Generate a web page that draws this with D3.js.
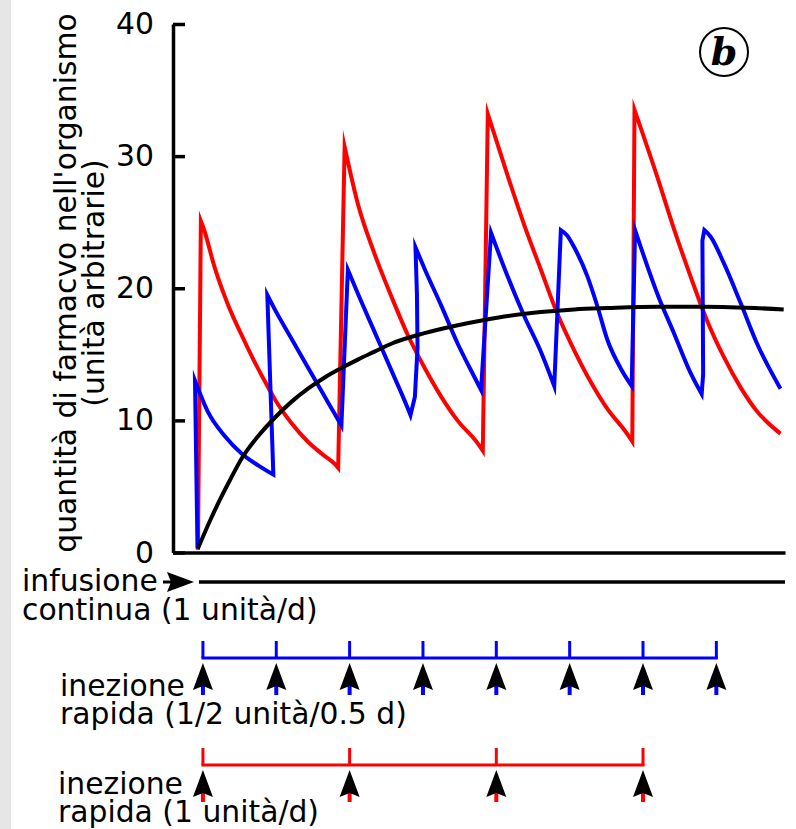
<!DOCTYPE html>
<html>
<head>
<meta charset="utf-8">
<script src="https://cdn.jsdelivr.net/npm/d3@7"></script>
<style>
  body { margin: 0; background: #fff; }
  svg text { font-family: "DejaVu Sans", sans-serif; font-size: 29.8px; fill: #000; }
</style>
</head>
<body>
<script>
'use strict';

// y axis ticks
const yTicks = [0, 10, 20, 30, 40];

// dosing schedules (days)
const blueDoses = [0, 0.5, 1, 1.5, 2, 2.5, 3, 3.5];
const redDoses = [0, 1, 2, 3];

// rapid injection, 1 unit / day (red)
const redTime = [-0.034, -0.014, 0.003, 0.082, 0.173, 0.262, 0.340, 0.420, 0.490, 0.603, 0.714, 0.830, 0.898, 0.922,
  0.966, 1.056, 1.170, 1.284, 1.395, 1.510, 1.624, 1.735, 1.871, 1.908,
  1.942, 2.075, 2.190, 2.304, 2.415, 2.531, 2.644, 2.755, 2.891, 2.927,
  2.942, 3.095, 3.211, 3.324, 3.435, 3.551, 3.665, 3.776, 3.937];
const redAmount = [0.2, 25.1, 24.6, 21.5, 18.7, 16.5, 14.7, 13.0, 11.6, 9.8, 8.4, 7.3, 6.7, 6.4,
  30.7, 26.4, 22.6, 19.4, 16.5, 14.0, 11.8, 10.0, 8.3, 7.7,
  33.2, 28.6, 24.8, 21.4, 18.1, 15.3, 12.9, 10.9, 9.0, 8.4,
  33.5, 28.5, 24.5, 20.9, 17.6, 14.8, 12.5, 10.7, 9.0];

// rapid injection, 1/2 unit / 0.5 day (blue)
const blueTime = [-0.037, -0.054, 0.036, 0.150, 0.263, 0.376, 0.480,
  0.439, 0.490, 0.603, 0.716, 0.830, 0.898, 0.944,
  0.988, 1.056, 1.170, 1.284, 1.397, 1.415,
  1.445, 1.463, 1.459, 1.449, 1.510, 1.624, 1.737, 1.850, 1.896,
  1.964, 2.077, 2.190, 2.304, 2.395,
  2.440, 2.483, 2.531, 2.621, 2.690, 2.757, 2.855, 2.923,
  2.946, 3.104, 3.211, 3.324, 3.375, 3.400,
  3.410, 3.405, 3.418, 3.461, 3.551, 3.665, 3.778, 3.937];
const blueAmount = [0.3, 13.0, 10.6, 8.8, 7.5, 6.6, 5.9,
  19.5, 18.4, 16.2, 14.0, 11.8, 10.5, 9.6,
  21.4, 19.6, 16.7, 13.8, 10.9, 10.4,
  11.8, 15.5, 19.5, 23.1, 21.5, 18.7, 15.8, 13.3, 12.3,
  24.2, 20.9, 17.9, 15.2, 12.6,
  24.4, 24.0, 23.1, 20.9, 18.6, 16.1, 13.8, 12.6,
  24.4, 19.4, 16.6, 13.6, 12.5, 12.0,
  13.5, 23.6, 24.4, 23.9, 21.9, 18.9, 15.8, 12.4];

// continuous infusion, 1 unit / day (black)
const infTime = [-0.034, 0.048, 0.116, 0.190, 0.263, 0.376, 0.490, 0.603, 0.716, 0.830, 0.950,
  1.056, 1.170, 1.284, 1.510, 1.737, 1.918, 2.077, 2.304, 2.531, 2.757, 3.104, 3.415, 3.959];
const infAmount = [0.3, 2.4, 4.0, 5.6, 7.1, 8.8, 10.2, 11.4, 12.4, 13.25, 14.0,
  14.6, 15.2, 15.8, 16.6, 17.2, 17.6, 17.9, 18.2, 18.4, 18.5, 18.6, 18.6, 18.4];

const W = 796, H = 829;

const svg = d3.select('body').append('svg')
  .attr('width', W)
  .attr('height', H);

// light gray strip at the left edge
svg.append('rect')
  .attr('x', 0).attr('y', 0)
  .attr('width', 11).attr('height', H)
  .attr('fill', '#e6e6e6');

// scales
const x = d3.scaleLinear().domain([-0.204, 3.968]).range([173, 785]);
const y = d3.scaleLinear().domain([0, 40]).range([552.5, 24]);

// y axis with inward ticks
const yAxis = d3.axisLeft(y)
  .tickValues(yTicks)
  .tickSizeInner(-12)
  .tickSizeOuter(0)
  .tickPadding(19);

const gy = svg.append('g')
  .attr('transform', 'translate(' + x.range()[0] + ',0)')
  .call(yAxis);
gy.select('.domain').attr('stroke-width', 3.5);
gy.selectAll('.tick line').attr('stroke-width', 3.5);
gy.selectAll('.tick text')
  .attr('font-family', '"DejaVu Sans", sans-serif')
  .attr('font-size', 29.8)
  .attr('fill', '#000');

// x axis: bare baseline
const gx = svg.append('g')
  .attr('transform', 'translate(0,' + y(0) + ')')
  .call(d3.axisBottom(x).ticks(0).tickSizeOuter(0));
gx.select('.domain').attr('stroke-width', 3.5);

// y axis title
svg.append('text')
  .attr('transform', 'translate(76,283) rotate(-90)')
  .attr('text-anchor', 'middle')
  .text("quantità di farmacvo nell'organismo");
svg.append('text')
  .attr('transform', 'translate(104,283) rotate(-90)')
  .attr('text-anchor', 'middle')
  .text('(unità arbitrarie)');

// curves: decaying stretches are smoothed, the jumps stay straight
const smooth = d3.line().x(d => x(d[0])).y(d => y(d[1])).curve(d3.curveMonotoneX);
const straight = d3.line().x(d => x(d[0])).y(d => y(d[1]));

function sawPath(pts) {
  let runs = [];
  let cur = [pts[0]];
  let falling = pts[1][1] <= pts[0][1];
  for (let i = 1; i < pts.length; i++) {
    let f = pts[i][1] <= pts[i - 1][1];
    if (f !== falling) {
      runs.push({ pts: cur, falling: falling });
      cur = [pts[i - 1]];
      falling = f;
    }
    cur.push(pts[i]);
  }
  runs.push({ pts: cur, falling: falling });
  return runs.map((r, i) => {
    let d = (r.falling ? smooth : straight)(r.pts);
    return i === 0 ? d : 'L' + d.slice(1);
  }).join('');
}

function drawCurve(times, values, color, saw) {
  let pts = d3.zip(times, values);
  svg.append('path')
    .attr('d', saw ? sawPath(pts) : smooth(pts))
    .attr('fill', 'none')
    .attr('stroke', color)
    .attr('stroke-width', 4)
    .attr('stroke-linejoin', 'miter')
    .attr('stroke-miterlimit', 12);
}

drawCurve(redTime, redAmount, '#ff0000', true);
drawCurve(blueTime, blueAmount, '#0000ff', true);
drawCurve(infTime, infAmount, '#000000', false);

// circled "b"
svg.append('circle')
  .attr('cx', 724).attr('cy', 52).attr('r', 24)
  .attr('fill', 'none').attr('stroke', '#000').attr('stroke-width', 2);
svg.append('text')
  .attr('x', 724).attr('y', 65)
  .attr('text-anchor', 'middle')
  .style('font-family', '"DejaVu Serif", serif')
  .style('font-weight', 'bold')
  .style('font-style', 'italic')
  .style('font-size', '38px')
  .text('b');

// ---- dosing schedule panel ----
function arrowHead(cx, tipY) {
  // black arrow head with concave base, pointing up
  const p = d3.path();
  p.moveTo(cx, tipY);
  p.lineTo(cx + 10, tipY + 27);
  p.lineTo(cx, tipY + 23);
  p.lineTo(cx - 10, tipY + 27);
  p.closePath();
  svg.append('path').attr('d', p.toString()).attr('fill', '#000');
}

// continuous infusion
svg.append('text').attr('x', 22).attr('y', 591).text('infusione');
svg.append('text').attr('x', 22).attr('y', 620).text('continua (1 unità/d)');

const infY = 582;
svg.append('line')
  .attr('x1', 163).attr('x2', 182)
  .attr('y1', infY).attr('y2', infY)
  .attr('stroke', '#000').attr('stroke-width', 3);
(function() {
  const p = d3.path();
  p.moveTo(194, infY);
  p.lineTo(167, infY - 10);
  p.lineTo(171, infY);
  p.lineTo(167, infY + 10);
  p.closePath();
  svg.append('path').attr('d', p.toString()).attr('fill', '#000');
})();
svg.append('line')
  .attr('x1', x(infTime[0]) + 1).attr('x2', x.range()[1])
  .attr('y1', infY).attr('y2', infY)
  .attr('stroke', '#000').attr('stroke-width', 3.5);

// injection schedules
function schedule(doses, color, barY, label1, label2, labelX, labelY) {
  svg.append('line')
    .attr('x1', x(doses[0])).attr('x2', x(doses[doses.length - 1]))
    .attr('y1', barY).attr('y2', barY)
    .attr('stroke', color).attr('stroke-width', 3)
    .attr('stroke-linecap', 'square');

  svg.selectAll(null)
    .data(doses)
    .enter()
    .append('line')
      .attr('x1', d => x(d)).attr('x2', d => x(d))
      .attr('y1', barY - 17).attr('y2', barY)
      .attr('stroke', color).attr('stroke-width', 3);

  // colored shafts below the arrow heads
  svg.selectAll(null)
    .data(doses)
    .enter()
    .append('line')
      .attr('x1', d => x(d)).attr('x2', d => x(d))
      .attr('y1', barY + 20).attr('y2', barY + 37)
      .attr('stroke', color).attr('stroke-width', 4);

  doses.forEach(d => arrowHead(x(d), barY + 5));

  svg.append('text').attr('x', labelX).attr('y', labelY).text(label1);
  svg.append('text').attr('x', labelX).attr('y', labelY + 28).text(label2);
}

schedule(blueDoses, '#0000ff', 658, 'inezione', 'rapida (1/2 unità/0.5 d)', 60, 696);
schedule(redDoses, '#ff0000', 765, 'inezione', 'rapida (1 unità/d)', 58, 794);
</script>
</body>
</html>
